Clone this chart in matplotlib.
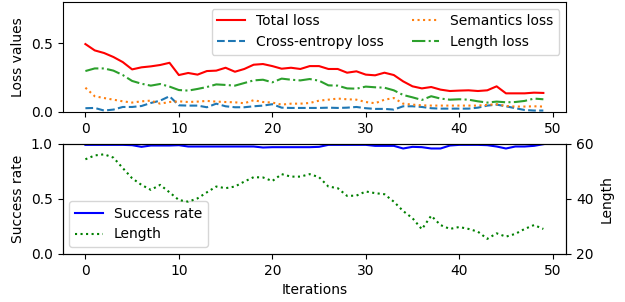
import numpy as np
import matplotlib
matplotlib.use("Agg")
import matplotlib.pyplot as plt

iterations = np.arange(50)

total_loss = [0.493, 0.447, 0.428, 0.399, 0.362, 0.309, 0.324, 0.331, 0.341, 0.357,
              0.268, 0.283, 0.271, 0.297, 0.300, 0.321, 0.292, 0.312, 0.343, 0.348,
              0.333, 0.314, 0.321, 0.312, 0.333, 0.333, 0.312, 0.312, 0.285, 0.295,
              0.271, 0.266, 0.285, 0.268, 0.222, 0.186, 0.171, 0.181, 0.162, 0.152,
              0.155, 0.157, 0.152, 0.157, 0.186, 0.135, 0.135, 0.135, 0.140, 0.138]
ce_loss = [0.027, 0.029, 0.010, 0.017, 0.036, 0.036, 0.043, 0.065, 0.082, 0.114,
           0.048, 0.046, 0.046, 0.034, 0.060, 0.041, 0.034, 0.034, 0.041, 0.046,
           0.056, 0.031, 0.029, 0.029, 0.029, 0.029, 0.031, 0.029, 0.031, 0.036,
           0.027, 0.022, 0.022, 0.017, 0.041, 0.041, 0.036, 0.027, 0.024, 0.024,
           0.024, 0.024, 0.031, 0.046, 0.053, 0.041, 0.027, 0.014, 0.010, 0.010]
sem_loss = [0.176, 0.114, 0.101, 0.089, 0.077, 0.068, 0.077, 0.082, 0.060, 0.072,
            0.077, 0.072, 0.075, 0.080, 0.075, 0.072, 0.070, 0.063, 0.085, 0.072,
            0.068, 0.053, 0.060, 0.060, 0.065, 0.082, 0.089, 0.097, 0.092, 0.089,
            0.072, 0.063, 0.089, 0.101, 0.060, 0.053, 0.048, 0.046, 0.046, 0.046,
            0.046, 0.046, 0.046, 0.051, 0.056, 0.043, 0.039, 0.039, 0.041, 0.039]
len_loss = [0.297, 0.316, 0.316, 0.300, 0.268, 0.225, 0.205, 0.191, 0.203, 0.184,
            0.159, 0.155, 0.167, 0.181, 0.200, 0.196, 0.191, 0.210, 0.229, 0.234,
            0.215, 0.242, 0.234, 0.229, 0.239, 0.227, 0.193, 0.191, 0.171, 0.169,
            0.184, 0.179, 0.176, 0.157, 0.123, 0.106, 0.087, 0.114, 0.097, 0.089,
            0.092, 0.089, 0.077, 0.068, 0.075, 0.070, 0.072, 0.080, 0.097, 0.092]

success_rate = [0.991, 0.991, 0.991, 0.991, 0.991, 0.988, 0.973, 0.985, 0.985, 0.985,
                0.988, 0.976, 0.976, 0.976, 0.976, 0.976, 0.976, 0.976, 0.976, 0.967,
                0.970, 0.970, 0.970, 0.970, 0.970, 0.973, 0.991, 0.991, 0.991, 0.991,
                0.991, 0.982, 0.982, 0.982, 0.958, 0.973, 0.970, 0.958, 0.958, 0.985,
                0.991, 0.991, 0.991, 0.988, 0.976, 0.958, 0.976, 0.976, 0.982, 0.997]
length = [54.4, 55.8, 56.2, 55.0, 51.2, 47.5, 45.1, 43.3, 45.1, 42.4,
          39.6, 39.0, 40.2, 42.4, 44.5, 43.9, 44.5, 46.3, 47.9, 47.8,
          46.5, 49.0, 48.1, 48.1, 49.0, 47.9, 44.5, 43.9, 41.1, 41.2,
          42.7, 42.1, 41.7, 39.0, 35.6, 33.0, 29.0, 33.9, 30.5, 29.1,
          29.8, 29.1, 28.1, 25.5, 27.5, 26.3, 27.3, 29.1, 30.5, 29.1]

fig, (ax1, ax2) = plt.subplots(2, 1, figsize=(6.25, 3.02), dpi=100)
fig.subplots_adjust(left=0.1, right=0.906, top=0.994, bottom=0.159, hspace=0.29)

# loss curves
ax1.plot(iterations, total_loss, color='red', linestyle='-', label='Total loss')
ax1.plot(iterations, ce_loss, color='tab:blue', linestyle='--', label='Cross-entropy loss')
ax1.plot(iterations, sem_loss, color='tab:orange', linestyle=':', label='Semantics loss')
ax1.plot(iterations, len_loss, color='tab:green', linestyle='-.', label='Length loss')
ax1.set_ylim(0, 0.8)
ax1.set_yticks([0.0, 0.5])
ax1.set_ylabel('Loss values')
ax1.legend(loc='upper right', ncol=2)

# success rate + length on twin axis
l1, = ax2.plot(iterations, success_rate, color='blue', linestyle='-', label='Success rate')
ax2.set_ylim(0, 1.0)
ax2.set_yticks([0.0, 0.5, 1.0])
ax2.set_ylabel('Success rate')
ax2.set_xlabel('Iterations')

ax3 = ax2.twinx()
l2, = ax3.plot(iterations, length, color='green', linestyle=':', label='Length')
ax3.set_ylim(20, 60)
ax3.set_yticks([20, 40, 60])
ax3.set_ylabel('Length')

ax2.legend(handles=[l1, l2], loc='lower left')

fig.savefig('out.png')
